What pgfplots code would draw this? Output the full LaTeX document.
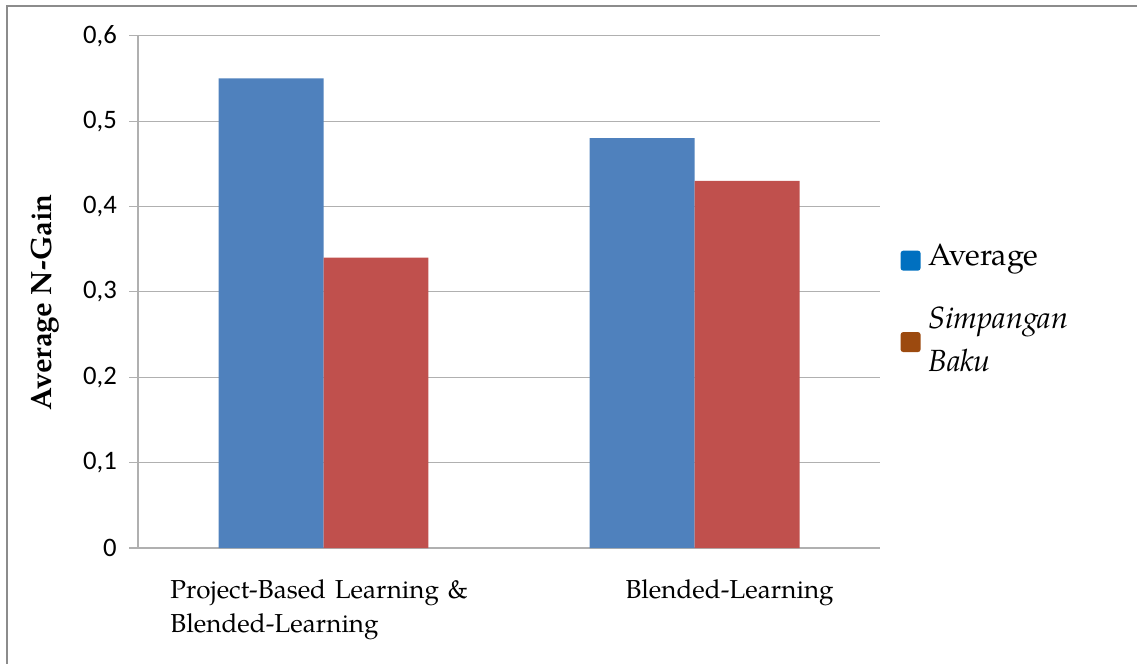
\documentclass[border=0pt]{standalone}
\usepackage{fontspec}
\usepackage{pgfplots}
\pgfplotsset{compat=1.18}
\newfontfamily\carlito{Carlito}
\newfontfamily\pal{TeX Gyre Pagella}
\definecolor{barblue}{HTML}{4F81BD}
\definecolor{barred}{HTML}{C0504D}
\definecolor{legblue}{HTML}{0070C0}
\definecolor{legbrown}{HTML}{9C4A0F}
\definecolor{gridgray}{HTML}{B0B0B0}
\definecolor{framegray}{HTML}{8C8C8C}
\begin{document}
\begin{tikzpicture}
\useasboundingbox (-103.5pt,-86.25pt) rectangle (749.25pt,411pt);
\draw[framegray, line width=1.6pt] (-98.25pt,-100pt) -- (-98.25pt,406.5pt) -- (760pt,406.5pt);
\begin{axis}[
  at={(0,0)}, anchor=south west,
  scale only axis,
  width=556.5pt, height=384.2pt,
  ybar=0pt, bar width=0.283,
  xmin=-0.5, xmax=1.5,
  ymin=0, ymax=0.6,
  ytick={0,0.1,0.2,0.3,0.4,0.5,0.6},
  xtick={0,1},
  xticklabels={{Project-Based Learning \&\\Blended-Learning},{\hspace*{63pt}Blended-Learning}},
  xticklabel style={font=\pal\fontsize{19.5}{25}\selectfont, text width=229.5pt, align=left, anchor=north, yshift=-14pt},
  major x tick style={draw=none},
  yticklabel style={font=\carlito\fontsize{20}{22}\selectfont, xshift=-6pt},
  /pgf/number format/.cd, use comma, fixed, precision=1, assume math mode=true,
  /pgfplots/.cd,
  ymajorgrids, grid style={gridgray, line width=0.9pt},
  axis x line*=bottom, axis y line*=left,
  axis line style={gridgray, line width=0.9pt, -},
  tick align=outside, major tick length=6.4pt,
  major y tick style={gridgray, line width=0.9pt},
  ylabel={Average N-Gain},
  every axis y label/.style={at={([xshift=-69.75pt]rel axis cs:0,0.48)}, rotate=90, anchor=center,
    font=\pal\bfseries\fontsize{22}{24}\selectfont},
  legend style={draw=none, fill=none, at={(rel axis cs:1.022,0.607)}, anchor=north west,
    font=\pal\fontsize{23}{28}\selectfont, row sep=22pt,
    cells={anchor=west}},
  legend cell align=left,
]
\addplot[fill=barblue, draw=none,
  legend image code/.code={\fill[legblue, draw=none, rounded corners=2pt] (0pt,-11.5pt) rectangle (15pt,3.5pt);
    \path[draw=none, fill=none] (0pt,-11.5pt) rectangle (18.75pt,11.5pt);}]
  coordinates {(0,0.55) (1,0.48)};
\addplot[fill=barred, draw=none,
  legend image code/.code={\fill[legbrown, draw=none, rounded corners=2pt] (0pt,-26.5pt) rectangle (15pt,-11.5pt);
    \path[draw=none, fill=none] (0pt,-9.5pt) rectangle (18.75pt,9.5pt);}]
  coordinates {(0,0.34) (1,0.43)};
\legend{Average, {\begin{tabular}[t]{@{}l@{}}\itshape Simpangan\\[4pt]\itshape Baku\end{tabular}}}
\end{axis}
\end{tikzpicture}
\end{document}
